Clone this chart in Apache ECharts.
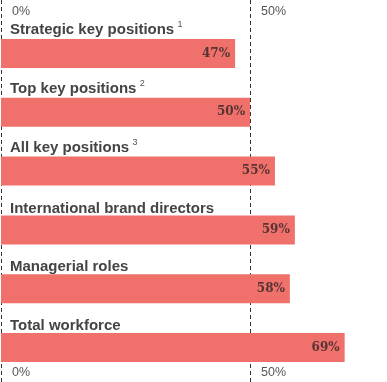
<!DOCTYPE html>
<html><head><meta charset="utf-8">
<script src="https://cdn.jsdelivr.net/npm/echarts@6/dist/echarts.min.js"></script>
<style>html,body{margin:0;padding:0;background:#fff}#c{width:387px;height:382px}</style>
</head><body><div id="c"></div>
<script>
const categories = ['Strategic key positions', 'Top key positions', 'All key positions', 'International brand directors', 'Managerial roles', 'Total workforce'];
const footnotes = ['1', '2', '3', '', '', ''];
const values = [47, 50, 55, 59, 58, 69];
const tickValues = [0, 50];

const chart = echarts.init(document.getElementById('c'));
const AXMAX = 77.5;
const common = {min: 0, max: AXMAX, interval: 50};
const fmt = v => tickValues.indexOf(v) >= 0 ? v + '%' : '';
chart.setOption({
  animation: false,
  grid: [
    {left: 1, right: 0, top: 0, bottom: 0, outerBoundsMode: 'none'},
    {left: 1, right: 0, top: 24, bottom: 5, outerBoundsMode: 'none'}
  ],
  xAxis: [
    Object.assign({gridIndex: 0, position: 'top', type: 'value',
      axisLine: {show: false}, axisTick: {show: false},
      axisLabel: {inside: true, margin: 5, align: 'left', padding: [0,0,0,11], color: '#555', fontSize: 12.5, fontFamily: 'Liberation Sans, Arial', formatter: fmt, showMaxLabel: false},
      splitLine: {show: true, showMaxLine: false, lineStyle: {color: '#333', width: 1, type: [4, 3]}}}, common),
    Object.assign({gridIndex: 0, position: 'bottom', type: 'value',
      axisLine: {show: false}, axisTick: {show: false},
      axisLabel: {inside: true, margin: 3, align: 'left', padding: [0,0,0,11], color: '#555', fontSize: 12.5, fontFamily: 'Liberation Sans, Arial', formatter: fmt, showMaxLabel: false},
      splitLine: {show: false}}, common),
    Object.assign({gridIndex: 1, type: 'value', show: false}, common)
  ],
  yAxis: [
    {gridIndex: 0, type: 'value', show: false, min: 0, max: 1},
    {gridIndex: 1, type: 'category', inverse: true, data: categories,
      axisLine: {show: false}, axisTick: {show: false}, splitLine: {show: false},
      axisLabel: {inside: true, margin: 9, align: 'left', verticalAlign: 'bottom',
        padding: [0, 0, 14, 0],
        formatter: (v, i) => '{t|' + v + '}' + (footnotes[i] ? ' {s|' + footnotes[i] + '}' : ''),
        rich: {
          t: {fontSize: 15, fontWeight: 'bold', color: '#444', fontFamily: 'Liberation Sans, Arial'},
          s: {fontSize: 9, color: '#555', fontFamily: 'Liberation Sans, Arial', padding: [0, 0, 10, 0]}
        }}}
  ],
  series: [{
    type: 'bar', xAxisIndex: 2, yAxisIndex: 1, data: values,
    barWidth: 29,
    itemStyle: {color: '#f0706b'},
    label: {show: true, position: 'insideRight', distance: 5, formatter: '{c}%',
      fontFamily: 'DejaVu Serif, Liberation Serif, serif', fontWeight: 'bold', fontSize: 12,
      color: '#553533'}
  }]
});
</script></body></html>
